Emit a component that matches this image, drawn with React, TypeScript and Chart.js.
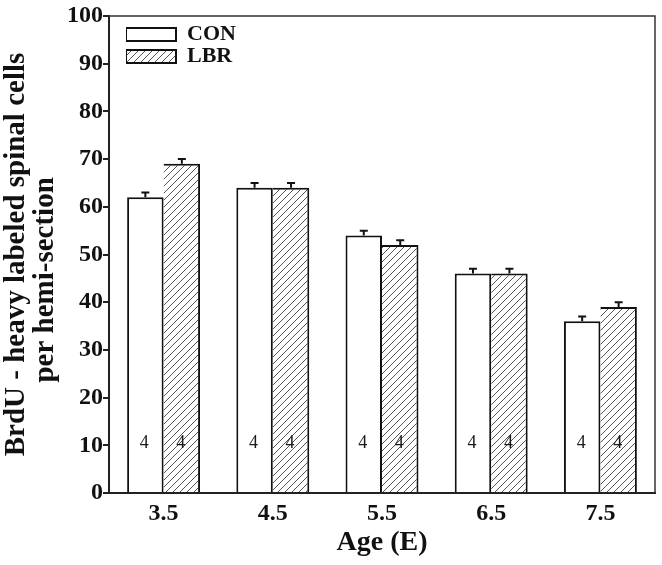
import React, { useEffect, useRef } from 'react';
import { Chart, registerables } from 'chart.js';

Chart.register(...registerables);

const AGES = ['3.5', '4.5', '5.5', '6.5', '7.5'];
const CON = [62, 64, 54, 46, 36];
const LBR = [69, 64, 52, 46, 39];
const CON_ERR = [1, 1, 1, 1, 1];
const LBR_ERR = [1, 1, 1, 1, 1];
const CON_N = [4, 4, 4, 4, 4];
const LBR_N = [4, 4, 4, 4, 4];
const Y_MIN = 0;
const Y_MAX = 100;
const Y_STEP = 10;
const N_LABEL_VALUE = 10;
const Y_TITLE = ['BrdU - heavy labeled spinal cells', 'per hemi-section       '];
const X_TITLE = 'Age (E)';

const FAMILY = "'Liberation Serif', 'Times New Roman', serif";

function makeHatch(ctx: CanvasRenderingContext2D) {
  const s = 7;
  const c = document.createElement('canvas');
  c.width = s;
  c.height = s;
  const g = c.getContext('2d')!;
  g.fillStyle = '#fff';
  g.fillRect(0, 0, s, s);
  g.strokeStyle = '#555';
  g.lineWidth = 1;
  g.beginPath();
  g.moveTo(0, s);
  g.lineTo(s, 0);
  g.moveTo(-2, 2);
  g.lineTo(2, -2);
  g.moveTo(s - 2, s + 2);
  g.lineTo(s + 2, s - 2);
  g.stroke();
  return ctx.createPattern(c, 'repeat');
}

const framePlugin = {
  id: 'frame',
  afterDraw(chart: any) {
    const { ctx, chartArea } = chart;
    ctx.save();
    ctx.strokeStyle = '#333';
    ctx.lineWidth = 1.5;
    ctx.beginPath();
    ctx.moveTo(chartArea.left, chartArea.top);
    ctx.lineTo(chartArea.right, chartArea.top);
    ctx.lineTo(chartArea.right, chartArea.bottom);
    ctx.stroke();
    ctx.restore();
  },
};

const errorBarPlugin = {
  id: 'errorBars',
  afterDatasetsDraw(chart: any) {
    const { ctx } = chart;
    const y = chart.scales.y;
    chart.data.datasets.forEach((ds: any, i: number) => {
      const meta = chart.getDatasetMeta(i);
      meta.data.forEach((bar: any, j: number) => {
        const v = ds.data[j];
        const e = ds.errors[j];
        const base = y.getPixelForValue(v);
        const top = y.getPixelForValue(v + e);
        ctx.save();
        ctx.strokeStyle = '#111';
        ctx.lineWidth = 2;
        ctx.beginPath();
        ctx.moveTo(bar.x, base);
        ctx.lineTo(bar.x, top);
        ctx.moveTo(bar.x - 4, top);
        ctx.lineTo(bar.x + 4, top);
        ctx.stroke();
        ctx.restore();
      });
    });
  },
};

const countPlugin = {
  id: 'counts',
  afterDatasetsDraw(chart: any) {
    const { ctx } = chart;
    const y = chart.scales.y;
    chart.data.datasets.forEach((ds: any, i: number) => {
      const meta = chart.getDatasetMeta(i);
      meta.data.forEach((bar: any, j: number) => {
        ctx.save();
        ctx.fillStyle = '#1a1a1a';
        ctx.font = `18px ${FAMILY}`;
        ctx.textAlign = 'center';
        ctx.textBaseline = 'alphabetic';
        ctx.fillText(String(ds.counts[j]), bar.x - 1, y.getPixelForValue(N_LABEL_VALUE) + 3);
        ctx.restore();
      });
    });
  },
};

const legendInside = {
  id: 'legendInside',
  afterLayout(chart: any) {
    const l = chart.legend;
    if (!l) return;
    const a = chart.chartArea;
    l.left = a.left + 17;
    l.right = l.left + l.width;
    l.top = a.top + 7.5;
    l.bottom = a.bottom;
  },
};

export default function App() {
  const ref = useRef<HTMLCanvasElement>(null);

  useEffect(() => {
    const canvas = ref.current!;
    const ctx = canvas.getContext('2d')!;
    const hatch = makeHatch(ctx);
    const tickFont = { family: FAMILY, size: 24, weight: 'bold' as const };
    const chart = new Chart(ctx, {
      type: 'bar',
      data: {
        labels: AGES,
        datasets: [
          {
            label: 'CON',
            data: CON,
            backgroundColor: '#fff',
            borderColor: '#111',
            borderWidth: { top: 2, left: 2, right: 2, bottom: 0 },
            borderSkipped: false,
            errors: CON_ERR,
            counts: CON_N,
          } as any,
          {
            label: 'LBR',
            data: LBR,
            backgroundColor: hatch as any,
            borderColor: '#111',
            borderWidth: { top: 2, left: 0, right: 2, bottom: 0 },
            borderSkipped: false,
            errors: LBR_ERR,
            counts: LBR_N,
          } as any,
        ],
      },
      options: {
        animation: false,
        responsive: true,
        maintainAspectRatio: false,
        layout: { padding: { top: 16, right: 7, bottom: 0, left: 0 } },
        datasets: { bar: { barPercentage: 1, categoryPercentage: 0.668 } },
        plugins: {
          tooltip: { enabled: false },
          legend: {
            display: true,
            position: 'chartArea' as any,
            align: 'start',
            labels: {
              font: { family: FAMILY, size: 22, weight: 'bold' },
              color: '#111',
              boxWidth: 50,
              boxHeight: 13,
              padding: 0,
              generateLabels: (c: any) =>
                Chart.defaults.plugins.legend.labels
                  .generateLabels(c)
                  .map((it: any) => ({ ...it, lineWidth: 2 })),
            },
          },
        },
        scales: {
          x: {
            grid: { display: false, drawTicks: false },
            border: { display: true, color: '#222', width: 2 },
            ticks: { font: tickFont, color: '#111', padding: 6 },
            title: {
              display: true,
              text: X_TITLE,
              color: '#111',
              font: { family: FAMILY, size: 28, weight: 'bold', lineHeight: 1 },
              padding: { top: 0, bottom: 8 },
            },
            afterFit(s: any) {
              s.height = 72;
            },
          },
          y: {
            min: Y_MIN,
            max: Y_MAX,
            ticks: { stepSize: Y_STEP, font: tickFont, color: '#111', padding: 0 },
            grid: { drawOnChartArea: false, drawTicks: true, tickLength: 6, color: '#222', lineWidth: 2 },
            border: { display: true, color: '#222', width: 2 },
            title: {
              display: true,
              text: Y_TITLE,
              color: '#111',
              font: { family: FAMILY, size: 29, weight: 'bold', lineHeight: 1 },
              padding: { top: 2.5, bottom: 0 },
            },
            afterFit(s: any) {
              s.width = 109;
            },
          },
        },
      },
      plugins: [framePlugin, errorBarPlugin, countPlugin, legendInside],
    });
    return () => chart.destroy();
  }, []);

  return (
    <div style={{ position: 'absolute', left: 0, top: 0, width: 662, height: 565, background: '#fff' }}>
      <canvas ref={ref} />
    </div>
  );
}
